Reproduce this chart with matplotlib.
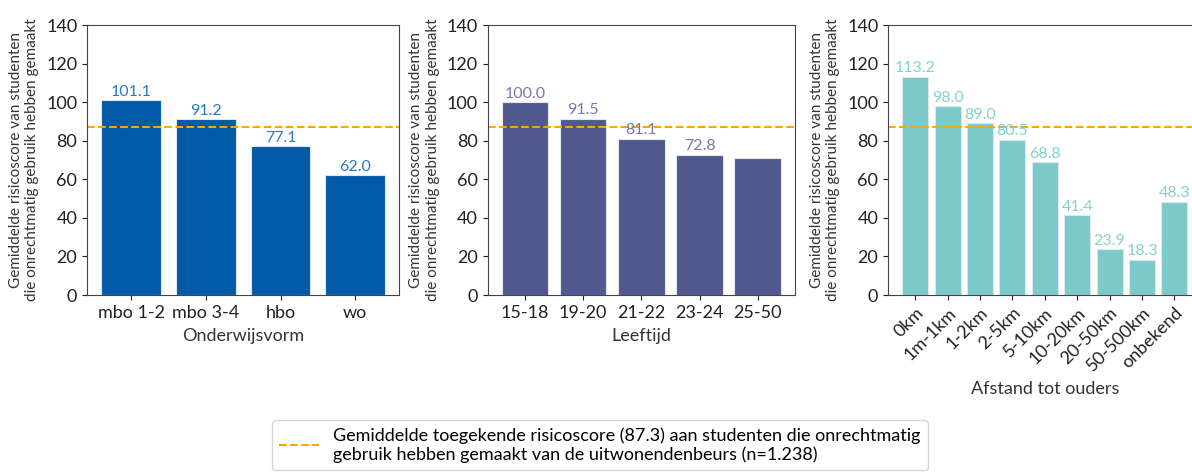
import matplotlib.pyplot as plt

plt.rcParams['font.family'] = ['Lato', 'DejaVu Sans']

# data
onderwijs = ['mbo 1-2', 'mbo 3-4', 'hbo', 'wo']
onderwijs_scores = [101.1, 91.2, 77.1, 62.0]

leeftijd = ['15-18', '19-20', '21-22', '23-24', '25-50']
leeftijd_scores = [100.0, 91.5, 81.1, 72.8, 71.0]
leeftijd_labels = ['100.0', '91.5', '81.1', '72.8', '']

afstand = ['0km', '1m-1km', '1-2km', '2-5km', '5-10km', '10-20km',
           '20-50km', '50-500km', 'onbekend']
afstand_scores = [113.2, 98.0, 89.0, 80.5, 68.8, 41.4, 23.9, 18.3, 48.3]

gemiddelde = 87.3
legend_text = ('Gemiddelde toegekende risicoscore (87.3) aan studenten die onrechtmatig\n'
               'gebruik hebben gemaakt van de uitwonendenbeurs (n=1.238)')
ylabel = 'Gemiddelde risicoscore van studenten\ndie onrechtmatig gebruik hebben gemaakt'

panels = [
    (onderwijs, onderwijs_scores, None, 'Onderwijsvorm', '#005AA8', '#2A78C4', 0),
    (leeftijd, leeftijd_scores, leeftijd_labels, 'Leeftijd', '#50588E', '#7479AC', 0),
    (afstand, afstand_scores, None, 'Afstand tot ouders', '#7CC9CA', '#86D0D0', 45),
]

fig = plt.figure(figsize=(11.92, 4.72), dpi=100)
lefts = [0.073, 0.409, 0.745]
widths = [0.262, 0.258, 0.263]

for left, w, (cats, vals, labels, xlabel, color, lcolor, rot) in zip(lefts, widths, panels):
    ax = fig.add_axes([left, 0.375, w, 0.572])
    bars = ax.bar(cats, vals, color=color, edgecolor='#dfe6f0', linewidth=0.8)
    if labels is None:
        labels = [f'{v:.1f}' for v in vals]
    ax.bar_label(bars, labels=labels, color=lcolor, fontsize=11.5, padding=1)
    line = ax.axhline(gemiddelde, color='orange', linestyle='--', linewidth=1.5)
    ax.set_ylim(0, 140)
    ax.set_yticks(range(0, 141, 20))
    ax.tick_params(axis='both', labelsize=13, colors='#222222')
    ax.set_ylabel(ylabel, fontsize=11, color='#333333', labelpad=5)
    ax.set_xlabel(xlabel, fontsize=13, color='#333333', labelpad=5)
    if rot:
        plt.setp(ax.get_xticklabels(), rotation=rot, ha='right', rotation_mode='anchor')
    for s in ax.spines.values():
        s.set_color('#444444')

fig.legend([line], [legend_text], loc='upper left',
           bbox_to_anchor=(263 / 1192, 1 - 411 / 472), fontsize=13,
           handlelength=2.2, frameon=True, fancybox=True, edgecolor='#cccccc')

fig.savefig('out.png', dpi=100)
